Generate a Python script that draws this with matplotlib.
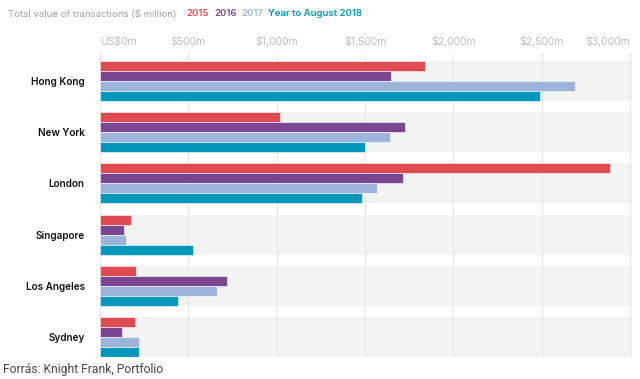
import numpy as np
import matplotlib.pyplot as plt

cities = ["Hong Kong", "New York", "London", "Singapore", "Los Angeles", "Sydney"]
series_names = ["2015", "2016", "2017", "Year to August 2018"]
v2015 = [1836, 1016, 2887, 175, 204, 200]
v2016 = [1649, 1725, 1714, 134, 721, 125]
v2017 = [2686, 1640, 1566, 148, 662, 221]
v2018 = [2488, 1499, 1483, 529, 442, 221]
tick_values = [0, 500, 1000, 1500, 2000, 2500, 3000]
tick_labels = ["US$0m", "$500m", "$1,000m", "$1,500m", "$2,000m", "$2,500m", "$3,000m"]

colors = ["#e04b51", "#7b4790", "#9db4da", "#0097ba"]
band_color = "#f3f3f3"
grid_color = "#e4e4e4"

plt.rcParams["font.family"] = ["Inter", "DejaVu Sans"]

fig = plt.figure(figsize=(6.4, 3.79), dpi=100)
ax = fig.add_axes([100 / 640, 1 - 357 / 379, 532 / 640, 304 / 379])

pitch = 51.2
top_off = (81 - 53) / pitch
ax.set_ylim(304 / pitch - top_off, -top_off)
ax.set_xlim(0, 3010)

bar_h = 0.195
y = np.arange(len(cities))
for i in y:
    ax.barh(i, 3010, height=4 * bar_h, color=band_color, zorder=0, left=0)
for k, vals in enumerate([v2015, v2016, v2017, v2018]):
    offs = (k - 1.5) * bar_h
    ax.barh(y + offs, vals, height=bar_h, color=colors[k], edgecolor="white",
            linewidth=0.4, zorder=3)

for t in tick_values:
    ax.axvline(t, color=grid_color, linewidth=0.8, zorder=1)

ax.xaxis.tick_top()
ax.set_xticks(tick_values)
ax.set_xticklabels(tick_labels)
ax.tick_params(axis="x", length=0, pad=4, labelsize=7.5, labelcolor="#bdbdbd")
labs = ax.get_xticklabels()
labs[0].set_ha("left")
labs[-1].set_ha("right")

ax.set_yticks(y)
ax.set_yticklabels(cities)
ax.tick_params(axis="y", length=0, pad=11, labelsize=7.2, labelcolor="#111111")
for lab in ax.get_yticklabels():
    lab.set_fontweight("semibold")

for s in ax.spines.values():
    s.set_visible(False)

# title line with coloured legend words
fig.canvas.draw()
renderer = fig.canvas.get_renderer()
x = 8 / 640
pieces = [("Total value of transactions ($ million)", "#a0a0a0")] + list(zip(series_names, colors))
for j, (txt, c) in enumerate(pieces):
    t = fig.text(x, 1 - 14 / 379, txt, color=c, fontsize=6.9, va="center", ha="left",
                 fontweight="normal" if j == 0 else "semibold")
    bb = t.get_window_extent(renderer)
    gap = 10 if j == 0 else 5
    x = (bb.x1 + gap) / 640

fig.text(3 / 640, 1 - 369 / 379, "Forrás: Knight Frank, Portfolio", color="#444444",
         fontsize=8.7, family=["Roboto", "DejaVu Sans"], va="center", ha="left")

fig.savefig("out.png", dpi=100)
